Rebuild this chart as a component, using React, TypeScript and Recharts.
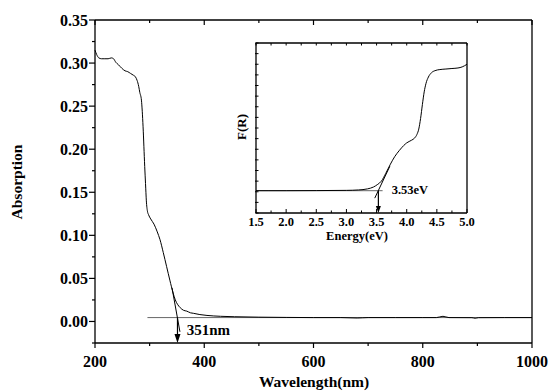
import {
  ComposedChart,
  Line,
  XAxis,
  YAxis,
  ReferenceLine,
  ReferenceDot,
} from 'recharts'

// main spectrum
const wavelength = [
  200, 203, 207, 212, 218, 224, 230, 234, 238, 243, 249, 255, 260, 265, 270, 274,
  277, 280, 282, 285, 288, 291, 292.5, 294, 296, 298, 302, 308, 314, 319, 325, 331,
  337, 343, 347, 351, 356, 362, 368, 375, 380, 392, 405, 430, 455, 500, 550, 600,
  650, 680, 700, 750, 800, 825, 837, 848, 890, 896, 902, 950, 1000,
]
const absorption = [
  0.315, 0.31, 0.306, 0.305, 0.305, 0.305, 0.306, 0.305, 0.301, 0.298, 0.294, 0.291,
  0.29, 0.288, 0.286, 0.284, 0.28, 0.273, 0.266, 0.257, 0.226, 0.18, 0.16, 0.14,
  0.128, 0.124, 0.119, 0.113, 0.104, 0.095, 0.08, 0.064, 0.048, 0.033, 0.025, 0.02,
  0.016, 0.013, 0.012, 0.01, 0.0095, 0.008, 0.007, 0.006, 0.0055, 0.005, 0.0047,
  0.0045, 0.0045, 0.004, 0.0045, 0.0045, 0.0045, 0.0045, 0.006, 0.0045, 0.0044,
  0.0037, 0.0044, 0.0045, 0.0045,
]

// inset: F(R) vs energy
const energy = [
  1.5, 1.7, 2.0, 2.5, 3.0, 3.2, 3.35, 3.45, 3.52, 3.58, 3.65, 3.73, 3.8, 3.88, 3.95,
  4.0, 4.08, 4.13, 4.17, 4.2, 4.23, 4.26, 4.29, 4.32, 4.36, 4.41, 4.47, 4.55, 4.65,
  4.75, 4.85, 4.92, 5.0,
]
const fr = [
  2.1, 2.1, 2.1, 2.11, 2.13, 2.17, 2.27, 2.45, 2.7, 3.0, 3.7, 4.6, 5.3, 5.9, 6.35,
  6.6, 6.85, 7.05, 7.4, 7.9, 8.9, 10.2, 11.4, 12.2, 12.8, 13.2, 13.4, 13.5, 13.55,
  13.6, 13.65, 13.75, 14.0,
]

const mainXTicks = [200, 300, 400, 500, 600, 700, 800, 900, 1000]
const mainXLabels = [200, 400, 600, 800, 1000]
const mainYTicks = [
  -0.025, 0, 0.025, 0.05, 0.075, 0.1, 0.125, 0.15, 0.175, 0.2, 0.225, 0.25, 0.275,
  0.3, 0.325, 0.35,
]
const mainYLabels = ['0.00', '0.05', '0.10', '0.15', '0.20', '0.25', '0.30', '0.35']

const insetXTicks = [
  1.5, 1.75, 2.0, 2.25, 2.5, 2.75, 3.0, 3.25, 3.5, 3.75, 4.0, 4.25, 4.5, 4.75, 5.0,
]
const insetXLabels = ['1.5', '2.0', '2.5', '3.0', '3.5', '4.0', '4.5', '5.0']
const insetYTicks = [0, 1, 2, 3, 4, 5, 6, 7, 8, 9, 10, 11, 12, 13, 14, 15, 16]

const edgeNm = 351
const edgeText = '351nm'
const gapEv = 3.53
const gapText = '3.53eV'

const mainData = wavelength.map((x, i) => ({ x, y: absorption[i] }))
const insetData = energy.map((x, i) => ({ x, y: fr[i] }))

const FONT = '"Liberation Serif", "Times New Roman", serif'
const axisStyle = { stroke: '#000', strokeWidth: 1.3 }

const isMainX = (v: number) => mainXLabels.includes(v)
const mainYLabel = (v: number) => {
  const s = v.toFixed(2)
  return mainYLabels.includes(s) && Math.abs(v * 1000) % 50 < 1e-6 ? s : null
}
const insetLabel = (v: number) => {
  const s = v.toFixed(1)
  return insetXLabels.includes(s) && Math.abs(v * 2 - Math.round(v * 2)) < 1e-6 ? s : null
}

const txt = (size: number) => ({
  fontFamily: FONT,
  fontWeight: 'bold' as const,
  fontSize: size,
  fill: '#000',
})

function MainBottomTick(p: any) {
  const v = p.payload.value
  const major = isMainX(v)
  return (
    <g>
      <line x1={p.x} y1={p.y} x2={p.x} y2={p.y + (major ? 5 : 3)} stroke="#000" strokeWidth={1.2} />
      {major && (
        <text x={p.x} y={p.y + 24} textAnchor="middle" {...txt(16)}>
          {v}
        </text>
      )}
    </g>
  )
}

function MainTopTick(p: any) {
  const major = isMainX(p.payload.value)
  return <line x1={p.x} y1={p.y} x2={p.x} y2={p.y + (major ? 5 : 3)} stroke="#000" strokeWidth={1.2} />
}

function MainLeftTick(p: any) {
  const label = mainYLabel(p.payload.value)
  return (
    <g>
      <line x1={p.x - (label ? 6 : 3)} y1={p.y} x2={p.x} y2={p.y} stroke="#000" strokeWidth={1.2} />
      {label && (
        <text x={p.x - 7} y={p.y + 5.5} textAnchor="end" {...txt(16)}>
          {label}
        </text>
      )}
    </g>
  )
}

function MainRightTick(p: any) {
  const major = mainYLabel(p.payload.value)
  return <line x1={p.x - (major ? 5 : 3)} y1={p.y} x2={p.x} y2={p.y} stroke="#000" strokeWidth={1.2} />
}

function InsetBottomTick(p: any) {
  const label = insetLabel(p.payload.value)
  return (
    <g>
      <line x1={p.x} y1={p.y} x2={p.x} y2={p.y - (label ? 4 : 2.5)} stroke="#000" strokeWidth={1} />
      {label && (
        <text x={p.x} y={p.y + 13} textAnchor="middle" {...txt(12.5)}>
          {label}
        </text>
      )}
    </g>
  )
}

function InsetTopTick(p: any) {
  return <line x1={p.x} y1={p.y} x2={p.x} y2={p.y + 2.5} stroke="#000" strokeWidth={1} />
}

function InsetLeftTick(p: any) {
  return <line x1={p.x - 1} y1={p.y} x2={p.x + 2.5} y2={p.y} stroke="#000" strokeWidth={1} />
}

function InsetRightTick(p: any) {
  return <line x1={p.x - 2.5} y1={p.y} x2={p.x + 1} y2={p.y} stroke="#000" strokeWidth={1} />
}

const arrowHead = (w: number, h: number) => (p: any) => (
  <polygon
    points={`${p.cx},${p.cy} ${p.cx - w},${p.cy - h} ${p.cx + w},${p.cy - h}`}
    fill="#000"
  />
)

const textAt = (label: string, size: number) => (p: any) => (
  <text x={p.cx} y={p.cy} textAnchor="start" {...txt(size)}>
    {label}
  </text>
)

const abs = { position: 'absolute' as const, whiteSpace: 'nowrap' as const, fontFamily: FONT, fontWeight: 'bold' as const, color: '#000', lineHeight: 1 }

export default function App() {
  return (
    <div style={{ position: 'absolute', left: 0, top: 0, width: 549, height: 392, background: '#fff' }}>
      <div style={{ position: 'absolute', left: 0, top: 0 }}>
        <ComposedChart width={549} height={392} data={mainData} margin={{ top: 10, right: 7, left: 35, bottom: 19 }}>
          <XAxis
            xAxisId="b"
            dataKey="x"
            type="number"
            domain={[200, 1000]}
            ticks={mainXTicks}
            interval={0}
            tick={MainBottomTick}
            tickLine={false}
            tickSize={0}
            tickMargin={0}
            height={30}
            axisLine={axisStyle}
          />
          <XAxis
            xAxisId="t"
            orientation="top"
            dataKey="x"
            type="number"
            domain={[200, 1000]}
            ticks={mainXTicks}
            interval={0}
            tick={MainTopTick}
            tickLine={false}
            tickSize={0}
            tickMargin={0}
            height={10}
            axisLine={axisStyle}
          />
          <YAxis
            yAxisId="l"
            type="number"
            domain={[-0.025, 0.35]}
            ticks={mainYTicks}
            interval={0}
            tick={MainLeftTick}
            tickLine={false}
            tickSize={0}
            tickMargin={0}
            width={60}
            axisLine={axisStyle}
          />
          <YAxis
            yAxisId="r"
            orientation="right"
            type="number"
            domain={[-0.025, 0.35]}
            ticks={mainYTicks}
            interval={0}
            tick={MainRightTick}
            tickLine={false}
            tickSize={0}
            tickMargin={0}
            width={10}
            axisLine={axisStyle}
          />
          <ReferenceLine
            xAxisId="b"
            yAxisId="l"
            segment={[{ x: 296, y: 0.0045 }, { x: 1000, y: 0.0045 }]}
            stroke="#666"
            strokeWidth={1}
          />
          <Line
            xAxisId="b"
            yAxisId="l"
            type="monotone"
            dataKey="y"
            stroke="#000"
            strokeWidth={1}
            dot={false}
            isAnimationActive={false}
          />
          <ReferenceLine
            xAxisId="b"
            yAxisId="l"
            segment={[{ x: 341, y: 0.039 }, { x: 355.5, y: -0.012 }]}
            stroke="#000"
            strokeWidth={1}
          />
          <ReferenceLine
            xAxisId="b"
            yAxisId="l"
            segment={[{ x: edgeNm, y: 0.0045 }, { x: edgeNm, y: -0.02 }]}
            stroke="#000"
            strokeWidth={1.2}
          />
          <ReferenceDot xAxisId="b" yAxisId="l" x={edgeNm} y={-0.025} r={0} ifOverflow="visible" shape={arrowHead(3, 9)} />
          <ReferenceDot xAxisId="b" yAxisId="l" x={368} y={-0.0155} r={0} ifOverflow="visible" shape={textAt(edgeText, 15)} />
        </ComposedChart>
      </div>

      <div style={{ position: 'absolute', left: 0, top: 0 }}>
        <ComposedChart width={549} height={392} data={insetData} margin={{ top: 33, right: 72, left: 246, bottom: 169 }}>
          <XAxis
            xAxisId="b"
            dataKey="x"
            type="number"
            domain={[1.5, 5.0]}
            ticks={insetXTicks}
            interval={0}
            tick={InsetBottomTick}
            tickLine={false}
            tickSize={0}
            tickMargin={0}
            height={10}
            axisLine={axisStyle}
          />
          <XAxis
            xAxisId="t"
            orientation="top"
            dataKey="x"
            type="number"
            domain={[1.5, 5.0]}
            ticks={insetXTicks}
            interval={0}
            tick={InsetTopTick}
            tickLine={false}
            tickSize={0}
            tickMargin={0}
            height={10}
            axisLine={axisStyle}
          />
          <YAxis
            yAxisId="l"
            type="number"
            domain={[0, 16]}
            ticks={insetYTicks}
            interval={0}
            tick={InsetLeftTick}
            tickLine={false}
            tickSize={0}
            tickMargin={0}
            width={10}
            axisLine={axisStyle}
          />
          <YAxis
            yAxisId="r"
            orientation="right"
            type="number"
            domain={[0, 16]}
            ticks={insetYTicks}
            interval={0}
            tick={InsetRightTick}
            tickLine={false}
            tickSize={0}
            tickMargin={0}
            width={10}
            axisLine={axisStyle}
          />
          <ReferenceLine
            xAxisId="b"
            yAxisId="l"
            segment={[{ x: 1.5, y: 2.1 }, { x: 3.6, y: 2.1 }]}
            stroke="#666"
            strokeWidth={1}
          />
          <Line
            xAxisId="b"
            yAxisId="l"
            type="monotone"
            dataKey="y"
            stroke="#000"
            strokeWidth={1}
            dot={false}
            isAnimationActive={false}
          />
          <ReferenceLine
            xAxisId="b"
            yAxisId="l"
            segment={[{ x: 3.47, y: 1.4 }, { x: 3.72, y: 4.4 }]}
            stroke="#000"
            strokeWidth={1}
          />
          <ReferenceLine
            xAxisId="b"
            yAxisId="l"
            segment={[{ x: gapEv, y: 2.1 }, { x: gapEv, y: 0.6 }]}
            stroke="#000"
            strokeWidth={1.2}
          />
          <ReferenceDot xAxisId="b" yAxisId="l" x={gapEv} y={0} r={0} ifOverflow="visible" shape={arrowHead(2.5, 7)} />
          <ReferenceDot xAxisId="b" yAxisId="l" x={3.75} y={1.8} r={0} ifOverflow="visible" shape={textAt(gapText, 12.5)} />
        </ComposedChart>
      </div>

      <div style={{ ...abs, left: 314, top: 382, fontSize: 15.5, transform: 'translate(-50%, -50%)' }}>
        Wavelength(nm)
      </div>
      <div style={{ ...abs, left: 17, top: 182, fontSize: 15.5, transform: 'translate(-50%, -50%) rotate(-90deg)' }}>
        Absorption
      </div>
      <div style={{ ...abs, left: 357, top: 236, fontSize: 12.5, transform: 'translate(-50%, -50%)' }}>
        Energy(eV)
      </div>
      <div style={{ ...abs, left: 241, top: 127, fontSize: 13, transform: 'translate(-50%, -50%) rotate(-90deg)' }}>
        F(R)
      </div>
    </div>
  )
}
